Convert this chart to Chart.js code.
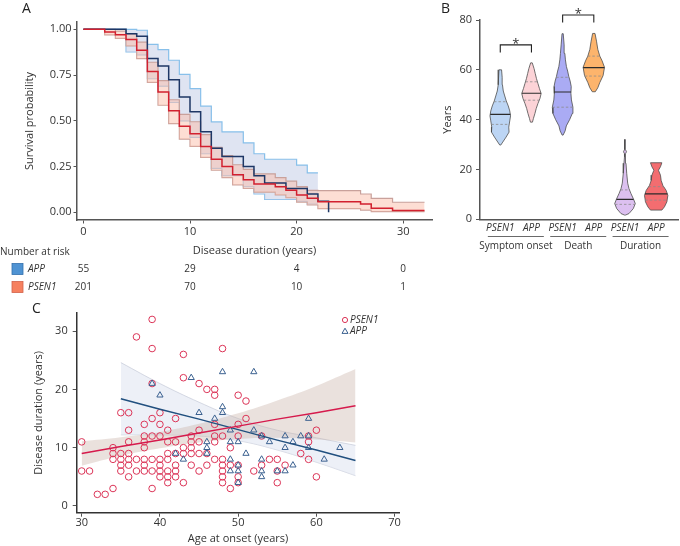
<!DOCTYPE html>
<html>
<head>
<meta charset="utf-8">
<title>Survival, age and duration by gene</title>
<script src="https://cdn.jsdelivr.net/npm/chart.js@4.4.1/dist/chart.umd.min.js"></script>
<style>
  body { margin: 0; background: #fff; font-family: 'Open Sans', sans-serif; }
  #page { position: relative; width: 680px; height: 546px; overflow: hidden; }
  canvas { position: absolute; }
  .panel-label { position: absolute; font-size: 14px; color: #222; line-height: 16px; }
</style>
</head>
<body>
<div id="page">
  <canvas id="kmChart" width="440" height="300" style="left:0;top:0"></canvas>
  <canvas id="scatterChart" width="440" height="246" style="left:0;top:300px"></canvas>
  <canvas id="violinChart" width="280" height="260" style="left:400px;top:0"></canvas>
  <div class="panel-label" style="left:22px;top:0">A</div>
  <div class="panel-label" style="left:441px;top:0">B</div>
  <div class="panel-label" style="left:32px;top:300px">C</div>
</div>
<script>
// ---- Panel A: Kaplan-Meier ----
const kmXTicks = [0, 10, 20, 30];
const kmYTicks = [0, 0.25, 0.5, 0.75, 1];

const appTimes = [0, 4, 5, 6, 7, 8, 9, 10, 11, 12, 13, 15, 16, 17, 19, 21, 22, 23];
const appSurv  = [1, 0.976, 0.962, 0.84, 0.80, 0.725, 0.63, 0.549, 0.44, 0.35, 0.305, 0.25, 0.20, 0.16, 0.13, 0.10, 0.06, 0];
const appCiTimes = [0, 4, 5, 6, 7, 8, 9, 10, 11, 12, 13, 15, 16, 17, 20, 21, 22];
const appUpper = [1, 1, 0.995, 0.918, 0.889, 0.831, 0.754, 0.676, 0.58, 0.494, 0.44, 0.38, 0.32, 0.29, 0.258, 0.216, 0.216];
const appLower = [1, 0.876, 0.86, 0.73, 0.69, 0.60, 0.50, 0.41, 0.32, 0.24, 0.20, 0.14, 0.10, 0.07, 0.06, 0.045, 0.045];

const psenTimes = [0, 2, 3, 4, 5, 6, 7, 8, 9, 10, 11, 12, 13, 14, 15, 16, 18, 19, 20, 21, 22, 26, 27, 29, 32];
const psenSurv  = [1, 0.985, 0.97, 0.944, 0.885, 0.77, 0.658, 0.555, 0.47, 0.43, 0.36, 0.29, 0.25, 0.205, 0.178, 0.155, 0.14, 0.12, 0.095, 0.077, 0.058, 0.045, 0.022, 0.01, 0.01];
const psenUpper = [1, 1, 0.99, 0.975, 0.93, 0.82, 0.72, 0.615, 0.535, 0.495, 0.425, 0.355, 0.31, 0.26, 0.235, 0.21, 0.19, 0.17, 0.14, 0.12, 0.118, 0.10, 0.076, 0.055, 0.055];
const psenLower = [1, 0.97, 0.95, 0.91, 0.84, 0.71, 0.585, 0.485, 0.40, 0.36, 0.30, 0.23, 0.19, 0.15, 0.13, 0.11, 0.095, 0.08, 0.055, 0.04, 0.02, 0.012, 0.004, 0.004, 0.004];

const riskTimes = [0, 10, 20, 30];
const riskApp = [55, 29, 4, 0];
const riskPsen = [201, 70, 10, 1];

// ---- Panel B: violins ----
const violinPos = [1, 2, 3, 4, 5, 6];
const violinGenes = ['PSEN1', 'APP', 'PSEN1', 'APP', 'PSEN1', 'APP'];
const violinGroups = ['Symptom onset', 'Death', 'Duration'];
const violinMedian = [42.1, 50.6, 51.1, 60.9, 8.0, 10.2];
const violinQ1 = [38.1, 47.8, 45.0, 57.5, 6.0, 7.7];
const violinQ3 = [47.2, 55.2, 57.0, 65.5, 11.8, 13.1];
const yearTicks = [0, 20, 40, 60, 80];

const onsetPsenLevels = [29.8, 31.0, 33.0, 35.0, 37.0, 39.5, 41.5, 43.5, 45.5, 47.5, 49.5, 51.5, 54.0, 57.0, 60.0];
const onsetPsenWidths = [0.5, 2.5, 5.8, 8.8, 8.5, 9.5, 10.3, 9.5, 8.0, 6.0, 4.5, 3.0, 2.2, 1.9, 1.3];
const onsetAppLevels = [39.0, 40.5, 42.5, 44.5, 46.5, 48.5, 50.5, 52.5, 54.5, 56.5, 58.5, 60.5, 62.8];
const onsetAppWidths = [1.0, 2.0, 3.5, 4.8, 6.5, 8.5, 9.7, 8.0, 6.5, 5.0, 3.8, 2.6, 0.8];
const deathPsenLevels = [33.8, 35.5, 37.5, 40.0, 42.5, 45.0, 47.9, 50.5, 53.3, 55.5, 57.3, 59.5, 61.3, 64.0, 66.6, 70.0, 74.5];
const deathPsenWidths = [0.5, 2.5, 3.7, 7.0, 9.7, 10.3, 8.8, 8.3, 8.6, 7.5, 6.2, 5.0, 3.8, 2.8, 2.2, 1.5, 0.6];
const deathAppLevels = [51.2, 52.8, 54.9, 57.7, 61.0, 63.6, 65.5, 68.2, 71.5, 74.6];
const deathAppWidths = [1.5, 4.0, 6.0, 9.3, 10.7, 8.3, 6.0, 4.0, 2.7, 1.2];
const durPsenLevels = [1.7, 2.3, 4.3, 6.3, 8.3, 10.3, 12.3, 14.5, 18.5, 22.5, 25.1, 26.3, 27.1, 28.0, 29.2, 32.0];
const durPsenWidths = [0.5, 4.0, 8.3, 10.3, 8.3, 6.0, 4.0, 2.7, 1.7, 1.0, 0.5, 0.5, 1.5, 0.5, 0.4, 0.3];
const durAppLevels = [3.7, 5.0, 7.0, 9.6, 11.6, 13.6, 15.6, 17.7, 19.7, 21.1, 22.7];
const durAppWidths = [5.7, 8.3, 10.7, 11.7, 10.0, 6.7, 5.0, 4.3, 2.3, 4.3, 5.7];

const bracketTop = [70, 82];
const bracketLeg = [67, 79];

// ---- Panel C: age at onset vs duration ----
const ageTicks = [30, 40, 50, 60, 70];
const durTicks = [0, 10, 20, 30];

const psenAge = [30,30,31,32,33,34,34,34,34,35,35,35,35,35,36,36,36,36,36,36,36,37,37,37,38,38,38,38,38,38,38,
  39,39,39,39,39,39,39,39,40,40,40,40,40,40,40,41,41,41,41,41,41,41,42,42,42,42,42,42,43,43,43,43,43,
  44,44,44,44,44,45,45,45,45,45,46,46,46,47,47,47,47,47,47,48,48,48,48,48,48,48,49,49,49,
  50,50,50,50,50,50,51,51,52,53,53,54,55,55,55,56,58,59,59,59,60,60];
const psenDur = [11,6,6,2,2,3,10,9,8,16,9,8,7,6,16,13,11,9,8,7,5,29,8,6,14,12,11,10,8,7,6,
  32,27,21,15,12,8,6,3,16,14,12,8,7,6,5,13,11,9,8,6,5,4,15,11,9,7,6,5,26,22,10,9,4,
  12,11,10,9,7,21,13,11,9,6,20,9,7,20,19,14,12,11,8,27,12,8,7,6,5,4,10,7,3,
  19,14,12,7,5,4,18,15,6,12,7,8,8,6,4,7,9,12,11,8,13,5];

const appAge = [39,40,42,43,44,45,46,46,46,47,48,48,48,49,49,49,49,50,50,50,50,51,52,52,53,53,53,53,54,55,56,56,56,57,57,58,59,59,59,61,63];
const appDur = [21,19,9,8,22,16,11,10,9,15,23,17,16,13,11,8,6,11,7,6,4,9,23,13,12,8,6,5,11,6,12,10,6,11,7,12,15,12,10,8,10];

const psenFitAge = [30, 35, 40, 45, 50, 55, 60, 65];
const psenFitMid = [9.0, 10.2, 11.3, 12.5, 13.7, 14.9, 16.0, 17.2];
const psenFitHigh = [11.1, 11.8, 12.7, 14.1, 15.9, 18.1, 20.6, 23.5];
const psenFitLow = [6.9, 8.6, 9.9, 10.9, 11.5, 11.7, 11.4, 10.9];
const appFitAge = [35, 40, 45, 50, 55, 60, 65];
const appFitMid = [18.4, 16.6, 14.9, 13.1, 11.3, 9.6, 7.8];
const appFitHigh = [24.6, 21.0, 17.8, 15.0, 13.0, 11.7, 10.4];
const appFitLow = [12.2, 12.2, 12.0, 11.2, 9.6, 7.5, 5.2];

const FONT = "'Open Sans', sans-serif";
const AXIS = '#555';
const PSEN_RED = '#db3457';
const APP_NAVY = '#3b6190';

Chart.defaults.font.family = FONT;
Chart.defaults.font.size = 11;
Chart.defaults.color = '#333';
Chart.defaults.animation = false;
Chart.defaults.plugins.legend.display = false;
Chart.defaults.plugins.tooltip.enabled = false;

const pts = (xs, ys) => xs.map((x, i) => ({x: x, y: ys[i]}));
const fixedTicks = vals => scale => { scale.ticks = vals.map(v => ({value: v})); };
const tickGrid = len => ({display: true, drawOnChartArea: false, drawTicks: true, tickLength: len, color: AXIS});

function stepLine(data, color, width, extra) {
  return Object.assign({data: data, stepped: 'before', borderColor: color, borderWidth: width,
    pointRadius: 0, fill: false}, extra);
}

// number at risk table under panel A
const riskTable = {
  id: 'riskTable',
  afterDraw(chart) {
    const ctx = chart.ctx;
    const x = chart.scales.x;
    ctx.save();
    ctx.fillStyle = '#333';
    ctx.textBaseline = 'middle';
    ctx.font = '10px ' + FONT;
    ctx.textAlign = 'left';
    ctx.fillText('Number at risk', 0, 252);
    const rows = [
      {name: 'APP', counts: riskApp, fill: '#4f93d3', stroke: '#3470ad', y: 269},
      {name: 'PSEN1', counts: riskPsen, fill: '#f6805f', stroke: '#d3614a', y: 287}
    ];
    rows.forEach(r => {
      ctx.fillStyle = r.fill;
      ctx.fillRect(12, r.y - 5.5, 11, 11);
      ctx.strokeStyle = r.stroke;
      ctx.lineWidth = 0.8;
      ctx.strokeRect(12, r.y - 5.5, 11, 11);
      ctx.fillStyle = '#333';
      ctx.textAlign = 'left';
      ctx.font = 'italic 10px ' + FONT;
      ctx.fillText(r.name, 28, r.y);
      ctx.font = '10px ' + FONT;
      ctx.textAlign = 'center';
      r.counts.forEach((n, i) => ctx.fillText(String(n), x.getPixelForValue(riskTimes[i]), r.y));
    });
    ctx.restore();
  }
};

new Chart(document.getElementById('kmChart'), {
  type: 'line',
  data: {
    datasets: [
      stepLine(pts(appCiTimes, appUpper), '#88c0ea', 1.2, {fill: '+1', backgroundColor: 'rgba(196,206,232,0.55)', order: 4}),
      stepLine(pts(appCiTimes, appLower), '#88c0ea', 1.2, {order: 4}),
      stepLine(pts(psenTimes, psenUpper), '#c9a19b', 1.2, {fill: '+1', backgroundColor: 'rgba(251,190,170,0.5)', order: 3}),
      stepLine(pts(psenTimes, psenLower), '#c9a19b', 1.2, {order: 3}),
      stepLine(pts(appTimes, appSurv), '#1e3766', 1.5, {order: 2}),
      stepLine(pts(psenTimes, psenSurv), '#d2202f', 1.5, {order: 1})
    ]
  },
  options: {
    responsive: false,
    layout: {padding: {left: 0, top: 22, right: 8, bottom: 40}},
    scales: {
      x: {
        type: 'linear', min: -0.6, max: 32.7,
        afterBuildTicks: fixedTicks(kmXTicks),
        afterFit: s => { s.height = 40; },
        ticks: {padding: 1.5},
        grid: tickGrid(3.5),
        border: {color: AXIS, width: 1.5},
        title: {display: true, text: 'Disease duration (years)', padding: {top: 0, bottom: 3}}
      },
      y: {
        min: -0.042, max: 1.04,
        afterBuildTicks: fixedTicks(kmYTicks),
        afterFit: s => { s.width = 77; },
        ticks: {padding: 2, callback: v => v.toFixed(2)},
        grid: tickGrid(3.5),
        border: {color: AXIS, width: 1.5},
        title: {display: true, text: 'Survival probability', padding: {top: 23.4, bottom: 0}}
      }
    }
  },
  plugins: [riskTable]
});

// ---- Panel B ----
const PX_PER_UNIT = 31.2;
const violins = [
  {levels: onsetPsenLevels, widths: onsetPsenWidths, color: '#bcd5f4'},
  {levels: onsetAppLevels, widths: onsetAppWidths, color: '#fcd3d7'},
  {levels: deathPsenLevels, widths: deathPsenWidths, color: '#aaabf4'},
  {levels: deathAppLevels, widths: deathAppWidths, color: '#fdb46c'},
  {levels: durPsenLevels, widths: durPsenWidths, color: '#dcc0f0'},
  {levels: durAppLevels, widths: durAppWidths, color: '#f36d70'}
];

function violinOutline(pos, levels, widths) {
  const right = levels.map((v, i) => ({x: pos + widths[i] / PX_PER_UNIT, y: v}));
  const left = levels.map((v, i) => ({x: pos - widths[i] / PX_PER_UNIT, y: v})).reverse();
  return right.concat(left, [right[0]]);
}
function widthAt(levels, widths, v) {
  for (let i = 1; i < levels.length; i++) {
    if (v <= levels[i]) {
      const t = (v - levels[i - 1]) / (levels[i] - levels[i - 1]);
      return (widths[i - 1] + t * (widths[i] - widths[i - 1])) / PX_PER_UNIT;
    }
  }
  return widths[widths.length - 1] / PX_PER_UNIT;
}
function hLine(pos, hw, v, color, width, dash) {
  return {data: [{x: pos - hw, y: v}, {x: pos + hw, y: v}], borderColor: color, borderWidth: width,
    borderDash: dash, pointRadius: 0, fill: false, order: 1};
}

const violinDatasets = [];
violins.forEach((vl, i) => {
  const pos = violinPos[i];
  violinDatasets.push({data: violinOutline(pos, vl.levels, vl.widths), borderColor: '#4d4d4d', borderWidth: 0.8,
    backgroundColor: vl.color, fill: 'shape', pointRadius: 0, tension: 0, order: 2});
  violinDatasets.push(hLine(pos, widthAt(vl.levels, vl.widths, violinMedian[i]), violinMedian[i], '#2b2b2b', 1.2, []));
  violinDatasets.push(hLine(pos, widthAt(vl.levels, vl.widths, violinQ1[i]), violinQ1[i], '#8c8c8c', 0.8, [2.5, 2]));
  violinDatasets.push(hLine(pos, widthAt(vl.levels, vl.widths, violinQ3[i]), violinQ3[i], '#8c8c8c', 0.8, [2.5, 2]));
});
bracketTop.forEach((top, g) => {
  const a = violinPos[2 * g], b = violinPos[2 * g + 1];
  violinDatasets.push({data: [{x: a, y: bracketLeg[g]}, {x: a, y: top}, {x: b, y: top}, {x: b, y: bracketLeg[g]}],
    borderColor: '#222', borderWidth: 1.1, pointRadius: 0, fill: false, clip: false, order: 0});
});

const violinLabels = {
  id: 'violinLabels',
  afterDraw(chart) {
    const {ctx, scales: {x, y}} = chart;
    ctx.save();
    ctx.fillStyle = '#333';
    ctx.textAlign = 'center';
    ctx.textBaseline = 'middle';
    ctx.font = 'italic 10px ' + FONT;
    violinGenes.forEach((g, i) => ctx.fillText(g, x.getPixelForValue(violinPos[i]), 228));
    ctx.strokeStyle = '#444';
    ctx.lineWidth = 0.8;
    violinGroups.forEach((name, g) => {
      const c = x.getPixelForValue((violinPos[2 * g] + violinPos[2 * g + 1]) / 2);
      ctx.beginPath();
      ctx.moveTo(c - 28, 236.5);
      ctx.lineTo(c + 28, 236.5);
      ctx.stroke();
      ctx.font = '10px ' + FONT;
      ctx.fillText(name, c, 246);
    });
    ctx.font = '13px ' + FONT;
    ctx.textBaseline = 'alphabetic';
    bracketTop.forEach((top, g) => {
      const c = x.getPixelForValue((violinPos[2 * g] + violinPos[2 * g + 1]) / 2);
      ctx.fillText('*', c, y.getPixelForValue(top) + 3);
    });
    ctx.restore();
  }
};

new Chart(document.getElementById('violinChart'), {
  type: 'line',
  data: {datasets: violinDatasets},
  options: {
    responsive: false,
    layout: {padding: {left: 0, top: 20, right: 2, bottom: 0}},
    scales: {
      x: {
        type: 'linear', min: 0.35, max: 6.7,
        afterFit: s => { s.height = 40.7; },
        ticks: {display: false},
        grid: {display: false},
        border: {color: AXIS, width: 1.5}
      },
      y: {
        min: 0, max: 80,
        afterBuildTicks: fixedTicks(yearTicks),
        afterFit: s => { s.width = 80; },
        ticks: {padding: 4},
        grid: tickGrid(4),
        border: {color: AXIS, width: 1.5},
        title: {display: true, text: 'Years', padding: {top: 41, bottom: 0}}
      }
    }
  },
  plugins: [violinLabels]
});

// ---- Panel C ----
const scatterLegend = {
  id: 'scatterLegend',
  afterDraw(chart) {
    const ctx = chart.ctx;
    ctx.save();
    ctx.lineWidth = 1;
    ctx.strokeStyle = PSEN_RED;
    ctx.beginPath();
    ctx.arc(345, 20, 2.6, 0, Math.PI * 2);
    ctx.stroke();
    ctx.strokeStyle = APP_NAVY;
    ctx.beginPath();
    ctx.moveTo(345, 28.2);
    ctx.lineTo(348, 33.4);
    ctx.lineTo(342, 33.4);
    ctx.closePath();
    ctx.stroke();
    ctx.fillStyle = '#333';
    ctx.font = 'italic 10px ' + FONT;
    ctx.textBaseline = 'middle';
    ctx.textAlign = 'left';
    ctx.fillText('PSEN1', 350, 20);
    ctx.fillText('APP', 350, 31);
    ctx.restore();
  }
};

new Chart(document.getElementById('scatterChart'), {
  type: 'line',
  data: {
    datasets: [
      {data: pts(appFitAge, appFitHigh), borderColor: 'rgba(175,182,200,0.7)', borderWidth: 0.7, backgroundColor: 'rgba(222,228,240,0.55)',
        fill: '+1', pointRadius: 0, tension: 0.4, order: 6},
      {data: pts(appFitAge, appFitLow), borderColor: 'rgba(175,182,200,0.7)', borderWidth: 0.7, pointRadius: 0, tension: 0.4, fill: false, order: 6},
      {data: pts(psenFitAge, psenFitHigh), borderWidth: 0, backgroundColor: 'rgba(200,175,165,0.38)',
        fill: '+1', pointRadius: 0, tension: 0.4, order: 5},
      {data: pts(psenFitAge, psenFitLow), borderWidth: 0, pointRadius: 0, tension: 0.4, fill: false, order: 5},
      {data: pts(psenAge, psenDur), showLine: false, pointStyle: 'circle', pointRadius: 3.3, pointBorderWidth: 1,
        pointBorderColor: PSEN_RED, pointBackgroundColor: 'rgba(0,0,0,0)', order: 4},
      {data: pts(appAge, appDur), showLine: false, pointStyle: 'triangle', pointRadius: 3.6, pointBorderWidth: 1,
        pointBorderColor: APP_NAVY, pointBackgroundColor: 'rgba(0,0,0,0)', order: 3},
      {data: pts(appFitAge, appFitMid), borderColor: '#21507f', borderWidth: 1.5, pointRadius: 0, fill: false, order: 2},
      {data: pts(psenFitAge, psenFitMid), borderColor: '#d61a4c', borderWidth: 1.5, pointRadius: 0, fill: false, order: 1}
    ]
  },
  options: {
    responsive: false,
    layout: {padding: {left: 0, top: 13, right: 40.7, bottom: 0}},
    scales: {
      x: {
        type: 'linear', min: 29.36, max: 70.6,
        afterBuildTicks: fixedTicks(ageTicks),
        afterFit: s => { s.height = 33.3; },
        ticks: {padding: 0},
        grid: tickGrid(4),
        border: {color: '#333', width: 1.5},
        title: {display: true, text: 'Age at onset (years)', padding: {top: 0, bottom: 0.4}}
      },
      y: {
        min: -1.15, max: 33.1,
        afterBuildTicks: fixedTicks(durTicks),
        afterFit: s => { s.width = 76.7; },
        ticks: {padding: 5},
        grid: tickGrid(4),
        border: {color: '#333', width: 1.5},
        title: {display: true, text: 'Disease duration (years)', padding: {top: 32.4, bottom: 0}}
      }
    }
  },
  plugins: [scatterLegend]
});
</script>
</body>
</html>
